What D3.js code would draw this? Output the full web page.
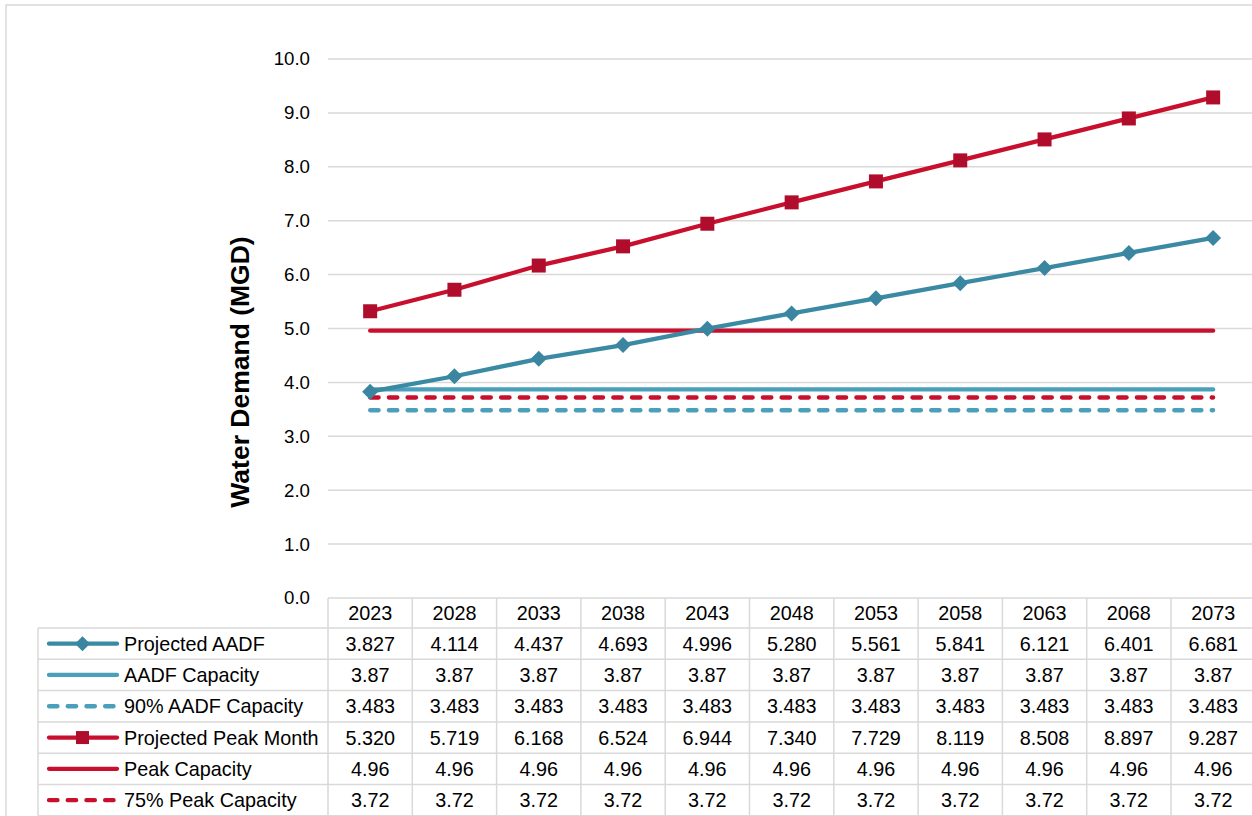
<!DOCTYPE html>
<html>
<head>
<meta charset="utf-8">
<script src="https://cdn.jsdelivr.net/npm/d3@7"></script>
<style>
  html, body { margin: 0; padding: 0; background: #fff; }
  svg { display: block; font-family: "Liberation Sans", Arial, sans-serif; }
</style>
</head>
<body>
<svg id="chart" width="1252" height="816"></svg>
<script>
// Water demand projections, 5-year steps
const years = ["2023","2028","2033","2038","2043","2048","2053","2058","2063","2068","2073"];
const projectedAADF = [3.827, 4.114, 4.437, 4.693, 4.996, 5.280, 5.561, 5.841, 6.121, 6.401, 6.681];
const aadfCapacity = [3.87, 3.87, 3.87, 3.87, 3.87, 3.87, 3.87, 3.87, 3.87, 3.87, 3.87];
const aadf90Capacity = [3.483, 3.483, 3.483, 3.483, 3.483, 3.483, 3.483, 3.483, 3.483, 3.483, 3.483];
const projectedPeakMonth = [5.320, 5.719, 6.168, 6.524, 6.944, 7.340, 7.729, 8.119, 8.508, 8.897, 9.287];
const peakCapacity = [4.96, 4.96, 4.96, 4.96, 4.96, 4.96, 4.96, 4.96, 4.96, 4.96, 4.96];
const peak75Capacity = [3.72, 3.72, 3.72, 3.72, 3.72, 3.72, 3.72, 3.72, 3.72, 3.72, 3.72];
const yTicks = [0, 1, 2, 3, 4, 5, 6, 7, 8, 9, 10];

// Series definitions (table row order)
const series = [
  { name: "Projected AADF", values: projectedAADF, fmt: d3.format(".3f"), color: "#3b8aa4", marker: "diamond", markerColor: "#3a86a0", dash: null },
  { name: "AADF Capacity", values: aadfCapacity, fmt: d3.format(".2f"), color: "#4a9fbb", marker: null, dash: null },
  { name: "90% AADF Capacity", values: aadf90Capacity, fmt: d3.format(".3f"), color: "#4a9fbb", marker: null, dash: "8.5,10.2" },
  { name: "Projected Peak Month", values: projectedPeakMonth, fmt: d3.format(".3f"), color: "#c8102e", marker: "square", markerColor: "#b00c2c", dash: null },
  { name: "Peak Capacity", values: peakCapacity, fmt: d3.format(".2f"), color: "#c8102e", marker: null, dash: null },
  { name: "75% Peak Capacity", values: peak75Capacity, fmt: d3.format(".2f"), color: "#c8102e", marker: null, dash: "8.5,10.2" }
];

const svg = d3.select("#chart");
const grid = "#d9d9d9";

const plotLeft = 328, plotTop = 59, plotBottom = 598;
const bandW = 84.3;
const plotRight = plotLeft + bandW * years.length;

const x = d3.scaleBand().domain(years).range([plotLeft, plotRight]);
const y = d3.scaleLinear().domain([0, 10]).range([plotBottom, plotTop]);
const cx = d => x(d) + x.bandwidth() / 2;

// Outer frame
svg.append("rect")
  .attr("x", 6).attr("y", 5).attr("width", 1260).attr("height", 830)
  .attr("fill", "none").attr("stroke", grid).attr("stroke-width", 1.5);

// Horizontal gridlines
svg.append("g").selectAll("line").data(yTicks.filter(t => t > 0)).join("line")
  .attr("x1", plotLeft).attr("x2", plotRight)
  .attr("y1", d => y(d)).attr("y2", d => y(d))
  .attr("stroke", grid).attr("stroke-width", 1.5);

// Y axis tick labels
const yAxis = d3.axisLeft(y).tickValues(yTicks).tickFormat(d3.format(".1f")).tickSize(0).tickPadding(18);
const yg = svg.append("g").attr("transform", `translate(${plotLeft},0)`).call(yAxis);
yg.select(".domain").remove();
yg.selectAll("text").attr("font-size", 18.7).attr("fill", "#000")
  .attr("font-family", "'Liberation Sans', Arial, sans-serif");

// Y axis title
svg.append("text")
  .attr("transform", `translate(249,372) rotate(-90)`)
  .attr("text-anchor", "middle")
  .attr("font-size", 26.5).attr("font-weight", "bold").attr("fill", "#000")
  .text("Water Demand (MGD)");

// Marker drawing helper
function drawMarker(g, type, color, px, py, s) {
  if (type === "square") {
    g.append("rect").attr("x", px - s / 2).attr("y", py - s / 2)
      .attr("width", s).attr("height", s).attr("fill", color);
  } else if (type === "diamond") {
    const h = s / 2 + 1;
    g.append("path").attr("d", `M${px},${py - h}L${px + h},${py}L${px},${py + h}L${px - h},${py}Z`)
      .attr("fill", color);
  }
}

// Series lines: draw flat capacity lines first, then projections on top
const order = [2, 5, 1, 4, 0, 3];
const lineGen = d3.line().x((d, i) => cx(years[i])).y(d => y(d));
const lines = svg.append("g");
order.forEach(k => {
  const s = series[k];
  lines.append("path")
    .attr("d", lineGen(s.values))
    .attr("fill", "none")
    .attr("stroke", s.color)
    .attr("stroke-width", 4.3)
    .attr("stroke-linecap", "round")
    .attr("stroke-linejoin", "round")
    .attr("stroke-dasharray", s.dash);
  if (s.marker) {
    const mg = lines.append("g");
    s.values.forEach((v, i) => drawMarker(mg, s.marker, s.markerColor, cx(years[i]), y(v), 14));
  }
});

// Data table
const headerTop = 598, headerH = 30, rowH = 31.3;
const legendLeft = 38;
const tableBottom = headerTop + headerH + rowH * series.length;
const table = svg.append("g");
const fs = 19.8;

// Horizontal borders
table.append("line").attr("x1", plotLeft).attr("x2", plotRight)
  .attr("y1", headerTop).attr("y2", headerTop).attr("stroke", grid).attr("stroke-width", 1.5);
d3.range(series.length + 1).forEach(r => {
  const yy = headerTop + headerH + r * rowH;
  table.append("line").attr("x1", legendLeft).attr("x2", plotRight)
    .attr("y1", yy).attr("y2", yy).attr("stroke", grid).attr("stroke-width", 1.5);
});
// Vertical borders
table.append("line").attr("x1", legendLeft).attr("x2", legendLeft)
  .attr("y1", headerTop + headerH).attr("y2", tableBottom).attr("stroke", grid).attr("stroke-width", 1.5);
years.forEach(yr => {
  table.append("line").attr("x1", x(yr)).attr("x2", x(yr))
    .attr("y1", headerTop).attr("y2", tableBottom).attr("stroke", grid).attr("stroke-width", 1.5);
});
table.append("line").attr("x1", plotRight).attr("x2", plotRight)
  .attr("y1", headerTop).attr("y2", tableBottom).attr("stroke", grid).attr("stroke-width", 1.5);

// Header: years
table.selectAll("text.year").data(years).join("text")
  .attr("class", "year")
  .attr("x", d => cx(d)).attr("y", headerTop + headerH / 2)
  .attr("dy", "0.36em").attr("text-anchor", "middle")
  .attr("font-size", fs).attr("fill", "#000")
  .text(d => d);

// Rows: legend key + values
series.forEach((s, r) => {
  const rowMid = headerTop + headerH + r * rowH + rowH / 2;
  const key = table.append("g");
  key.append("line").attr("x1", 49).attr("x2", 117)
    .attr("y1", rowMid).attr("y2", rowMid)
    .attr("stroke", s.color).attr("stroke-width", 4.3)
    .attr("stroke-linecap", "round").attr("stroke-dasharray", s.dash);
  if (s.marker) drawMarker(key, s.marker, s.markerColor, 82.5, rowMid, 13);
  key.append("text").attr("x", 124).attr("y", rowMid).attr("dy", "0.36em")
    .attr("font-size", fs).attr("fill", "#000").text(s.name);
  table.append("g").selectAll("text").data(s.values).join("text")
    .attr("x", (d, i) => cx(years[i])).attr("y", rowMid).attr("dy", "0.36em")
    .attr("text-anchor", "middle").attr("font-size", fs).attr("fill", "#000")
    .text(d => s.fmt(d));
});
</script>
</body>
</html>
